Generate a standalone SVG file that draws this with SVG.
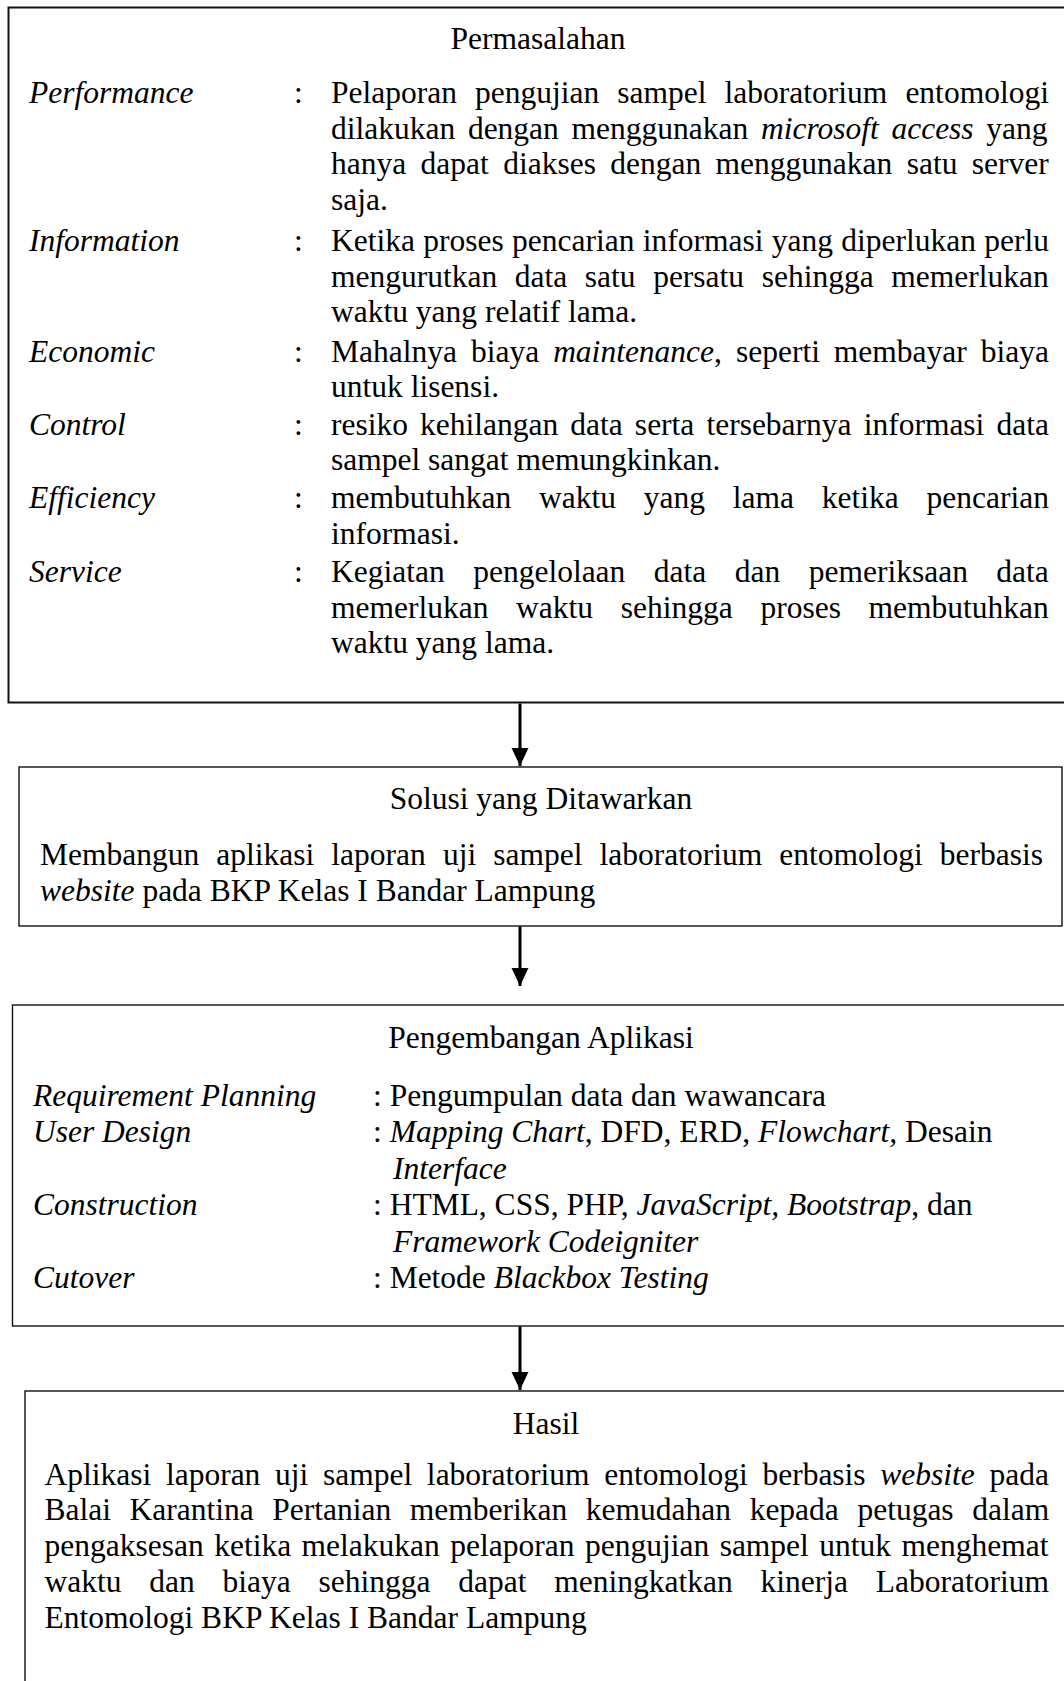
<svg xmlns="http://www.w3.org/2000/svg" width="1064" height="1681" viewBox="0 0 1064 1681">
<style>
text{font-family:"Liberation Serif","Times New Roman",serif;font-size:31.5px;fill:#000}
.i{font-style:italic}
.m{text-anchor:middle}
.box{fill:#fff;stroke:#111;stroke-width:1.4}
.box1{fill:#fff;stroke:#111;stroke-width:2}
.conn{stroke:#000;stroke-width:3;fill:none}
</style>
<defs>
<marker id="ah" markerUnits="userSpaceOnUse" markerWidth="18" markerHeight="18" refX="17" refY="8" orient="auto" viewBox="0 0 17 16">
<path d="M0,0 L17,8 L0,16 Z" fill="#000"/>
</marker>
</defs>
<rect width="1064" height="1681" fill="#fff"/>

<g id="permasalahan">
<rect class="box1" x="8.5" y="7.5" width="1070" height="695"/>
<text class="m" x="538" y="49">Permasalahan</text>
<text class="i" x="29" y="103">Performance</text>
<text x="294" y="103">:</text>
<text x="331" y="103" style="word-spacing:10.2px">Pelaporan pengujian sampel laboratorium entomologi</text>
<text x="331" y="138.5" style="word-spacing:4.8px">dilakukan dengan menggunakan <tspan class="i">microsoft access</tspan> yang</text>
<text x="331" y="174" style="word-spacing:6.5px">hanya dapat diakses dengan menggunakan satu server</text>
<text x="331" y="209.5">saja.</text>
<text class="i" x="29" y="251">Information</text>
<text x="294" y="251">:</text>
<text x="331" y="251" style="word-spacing:0.4px">Ketika proses pencarian informasi yang diperlukan perlu</text>
<text x="331" y="286.5" style="word-spacing:9.7px">mengurutkan data satu persatu sehingga memerlukan</text>
<text x="331" y="322">waktu yang relatif lama.</text>
<text class="i" x="29" y="362">Economic</text>
<text x="294" y="362">:</text>
<text x="331" y="362" style="word-spacing:6.1px">Mahalnya biaya <tspan class="i">maintenance</tspan>, seperti membayar biaya</text>
<text x="331" y="397">untuk lisensi.</text>
<text class="i" x="29" y="435">Control</text>
<text x="294" y="435">:</text>
<text x="331" y="435" style="word-spacing:4.2px">resiko kehilangan data serta tersebarnya informasi data</text>
<text x="331" y="470">sampel sangat memungkinkan.</text>
<text class="i" x="29" y="508">Efficiency</text>
<text x="294" y="508">:</text>
<text x="331" y="508" style="word-spacing:19.9px">membutuhkan waktu yang lama ketika pencarian</text>
<text x="331" y="543.5">informasi.</text>
<text class="i" x="29" y="582">Service</text>
<text x="294" y="582">:</text>
<text x="331" y="582" style="word-spacing:20.6px">Kegiatan pengelolaan data dan pemeriksaan data</text>
<text x="331" y="617.5" style="word-spacing:19.8px">memerlukan waktu sehingga proses membutuhkan</text>
<text x="331" y="653">waktu yang lama.</text>
</g>

<g id="solusi">
<rect class="box" x="19" y="767" width="1043" height="159"/>
<text class="m" x="541" y="809">Solusi yang Ditawarkan</text>
<text x="40" y="865" style="word-spacing:9.2px">Membangun aplikasi laporan uji sampel laboratorium entomologi berbasis</text>
<text x="40" y="900.5"><tspan class="i">website</tspan> pada BKP Kelas I Bandar Lampung</text>
</g>

<g id="pengembangan">
<rect class="box" x="12.5" y="1005" width="1070" height="321"/>
<text class="m" x="541" y="1048">Pengembangan Aplikasi</text>
<text class="i" x="33" y="1105.5">Requirement Planning</text>
<text x="373" y="1105.5">: Pengumpulan data dan wawancara</text>
<text class="i" x="33" y="1142">User Design</text>
<text x="373" y="1142">: <tspan class="i">Mapping Chart</tspan>, DFD, ERD, <tspan class="i">Flowchart,</tspan> Desain</text>
<text class="i" x="393" y="1178.5">Interface</text>
<text class="i" x="33" y="1215">Construction</text>
<text x="373" y="1215">: HTML, CSS, PHP, <tspan class="i">JavaScript, Bootstrap</tspan>, dan</text>
<text class="i" x="393" y="1251.5">Framework Codeigniter</text>
<text class="i" x="33" y="1288">Cutover</text>
<text x="373" y="1288">: Metode <tspan class="i">Blackbox Testing</tspan></text>
</g>

<g id="hasil">
<rect class="box" x="25" y="1391" width="1060" height="300"/>
<text class="m" x="546" y="1434">Hasil</text>
<text x="44.5" y="1484.5" style="word-spacing:6.8px">Aplikasi laporan uji sampel laboratorium entomologi berbasis <tspan class="i">website</tspan> pada</text>
<text x="44.5" y="1520" style="word-spacing:10.7px">Balai Karantina Pertanian memberikan kemudahan kepada petugas dalam</text>
<text x="44.5" y="1556" style="word-spacing:2.6px">pengaksesan ketika melakukan pelaporan pengujian sampel untuk menghemat</text>
<text x="44.5" y="1592" style="word-spacing:19.9px">waktu dan biaya sehingga dapat meningkatkan kinerja Laboratorium</text>
<text x="44.5" y="1628">Entomologi BKP Kelas I Bandar Lampung</text>
</g>

<g id="connectors">
<line class="conn" x1="520" y1="703.5" x2="520" y2="766" marker-end="url(#ah)"/>
<line class="conn" x1="520" y1="926.5" x2="520" y2="986" marker-end="url(#ah)"/>
<line class="conn" x1="520" y1="1326.5" x2="520" y2="1390" marker-end="url(#ah)"/>
</g>
</svg>
